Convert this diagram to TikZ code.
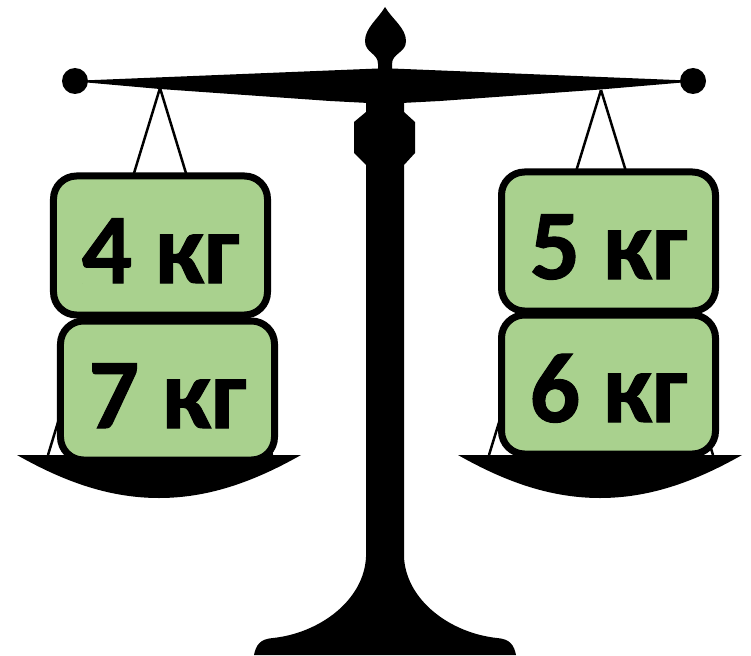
\documentclass[tikz,border=0pt]{standalone}
\usepackage{fontspec}
\setmainfont{Carlito}
\newfontfamily\weightfont{Carlito}[BoldFeatures={FakeBold=1}]
\definecolor{weight}{HTML}{A9D18E}
\tikzset{
  silhouette/.style={fill=black,draw=none},
  cord/.style={draw=black,line width=2.5bp},
  weightbox/.style={draw=black,fill=weight,line width=7bp,rounded corners=23bp,inner sep=0pt,
    minimum width=214bp,minimum height=139bp,align=center,text height=75bp,text depth=0pt,
    font=\fontsize{100}{100}\weightfont\bfseries},
}
\begin{document}
\begin{tikzpicture}[x=1bp,y=-1bp]
\useasboundingbox[fill=white] (0,0) rectangle (751,656);
% anchor points
\coordinate (apexL) at (160,88);
\coordinate (apexR) at (601,90);
\coordinate (panLa) at (48,455);
\coordinate (panLb) at (272,455);
\coordinate (panRa) at (489,455);
\coordinate (panRb) at (713,455);
% cords
\draw[cord] (apexL) -- (panLa);
\draw[cord] (apexL) -- (panLb);
\draw[cord] (apexR) -- (panRa);
\draw[cord] (apexR) -- (panRb);
% pans
\fill[silhouette] (17,455) -- (301,455) .. controls (250,484) and (205,498) .. (159,498) .. controls (113,498) and (68,484) .. cycle;
\fill[silhouette] (458,455) -- (742,455) .. controls (691,484) and (646,498) .. (600,498) .. controls (554,498) and (509,484) .. cycle;
% stand
\fill[silhouette] (366,100) -- (366,112) -- (354,122) -- (354,153) -- (366,165)
  -- (366,557) .. controls (364,600) and (320,633) .. (273,638)
  .. controls (260,639) and (256,645) .. (254,655) -- (516,655)
  .. controls (514,645) and (510,639) .. (497,638)
  .. controls (450,633) and (406,600) .. (404,557)
  -- (404,165) -- (415,153) -- (415,122) -- (404,112) -- (404,100) -- cycle;
% beam
\fill[silhouette] (70,81) -- (378,68.5) -- (392,68.5) -- (700,81) -- (600,89.5) -- (440,101) -- (392,103.5) -- (378,103.5) -- (330,101) -- (160,89) -- cycle;
% finial
\fill[silhouette] (385,7) .. controls (378,19) and (365,28) .. (365,41)
  .. controls (365,53) and (378,53) .. (378,64) -- (378,72) -- (392,72) -- (392,64)
  .. controls (392,53) and (406,53) .. (406,41)
  .. controls (406,28) and (392,19) .. (385,7) -- cycle;
% ends
\fill[silhouette] (75,81) circle[radius=13];
\fill[silhouette] (693,81) circle[radius=13];
% weights
\node[weightbox] (w4) at (160.5,245.5) {4 кг};
\node[weightbox] (w7) at (167.5,390.5) {7 кг};
\node[weightbox] (w5) at (608.5,241.5) {5 кг};
\node[weightbox] (w6) at (608.5,384.5) {6 кг};
\end{tikzpicture}
\end{document}
